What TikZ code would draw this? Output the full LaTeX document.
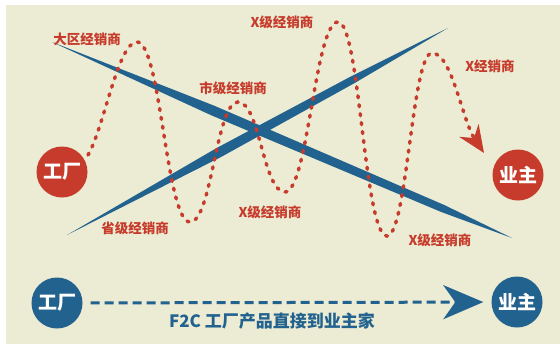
\documentclass[tikz,border=0pt]{standalone}
\usepackage{fontspec}
\newfontfamily\cjk{Noto Sans CJK SC}
\usetikzlibrary{arrows.meta,calc}
\definecolor{cream}{HTML}{ECEBD3}
\definecolor{myred}{HTML}{C63B2B}
\definecolor{myblue}{HTML}{22628E}
\begin{document}
\begin{tikzpicture}[x=1pt,y=-1pt,
  lab/.style={text=myred,font=\cjk\bfseries\fontsize{13.5}{13.5}\selectfont,inner sep=0pt},
  disc/.style={circle,minimum size=51pt,inner sep=0pt,text=white,font=\cjk\bfseries\fontsize{19}{19}\selectfont},
  wave/.style={draw=myred,line width=3.5pt,line cap=round,dash pattern=on 2pt off 7pt},
  brush/.style={fill=myblue,draw=none}]
\useasboundingbox (0,0) rectangle (560,346);
\fill[white] (0,0) rectangle (560,346);
\fill[cream] (6,5) rectangle (560,344);
% blue brush strokes
\coordinate (a1) at (52,42);
\coordinate (a2) at (512,238);
\coordinate (b1) at (67,235);
\coordinate (b2) at (448,28);
\fill[brush] (a1) -- ($(a1)!0.35!(a2)!5pt!90:(a2)$) -- ($(a1)!0.85!(a2)!3.8pt!90:(a2)$) -- (a2)
  -- ($(a1)!0.85!(a2)!3.8pt!-90:(a2)$) -- ($(a1)!0.35!(a2)!5pt!-90:(a2)$) -- cycle;
\fill[brush] (b1) -- ($(b1)!0.4!(b2)!5pt!90:(b2)$) -- ($(b1)!0.75!(b2)!3.8pt!90:(b2)$) -- (b2)
  -- ($(b1)!0.75!(b2)!3.8pt!-90:(b2)$) -- ($(b1)!0.4!(b2)!5pt!-90:(b2)$) -- cycle;
% circles
\node[disc,fill=myred] (f1) at (62,172) {工厂};
\node[disc,fill=myred] (c1) at (518,175) {业主};
\node[disc,fill=myblue] (f2) at (57,303) {工厂};
\node[disc,fill=myblue] (c2) at (517,302) {业主};
% red wave
\coordinate (ws) at (88,155);
\coordinate (we) at (484,153);
\draw[wave,-{Stealth[length=27pt,width=23pt,inset=9pt,fill=myred]}]
  (ws) .. controls (104,128) and (118,42) .. (137,42)
  .. controls (161,42) and (166,222) .. (190,222)
  .. controls (212,222) and (216,102) .. (238,102)
  .. controls (260,102) and (263,192) .. (285,192)
  .. controls (308,192) and (315,22) .. (338,22)
  .. controls (360,22) and (364,236) .. (387,236)
  .. controls (407,236) and (412,53) .. (432,53)
  .. controls (452,53) and (462,120) .. (we);
% labels
\node[lab] (l1) at (87,39) {大区经销商};
\node[lab] (l2) at (233,88) {市级经销商};
\node[lab] (l3) at (282,22) {X级经销商};
\node[lab] (l4) at (490,66) {X经销商};
\node[lab] (l5) at (135,228) {省级经销商};
\node[lab] (l6) at (270,212) {X级经销商};
\node[lab] (l7) at (440,240) {X级经销商};
% blue dashed arrow
\draw[myblue,line width=3pt,dash pattern=on 9pt off 5pt,shorten <=8pt,shorten >=8pt,
  -{Stealth[length=40pt,width=34pt,inset=12pt]}] (f2) -- (c2);
\node[text=myblue,font=\cjk\bfseries\fontsize{17}{17}\selectfont,inner sep=0pt] (t) at (272,321) {F2C 工厂产品直接到业主家};
\end{tikzpicture}
\end{document}
